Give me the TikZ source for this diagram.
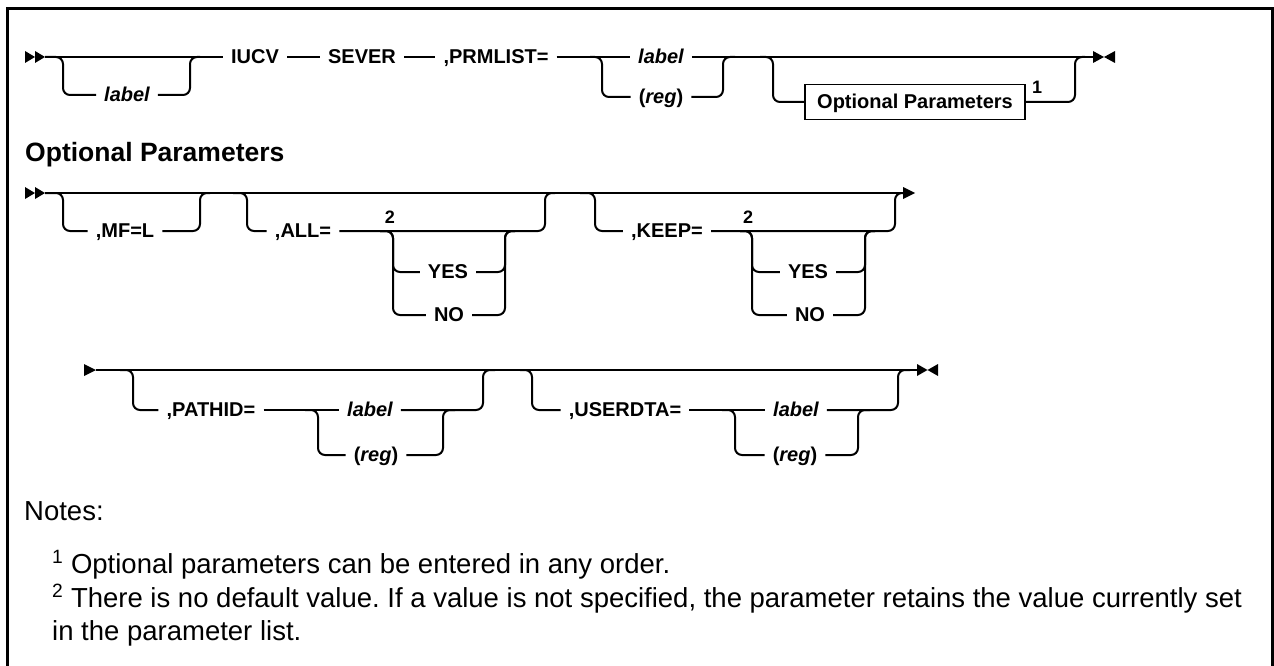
\documentclass[tikz,border=0pt]{standalone}
\usepackage{fontspec}
\setmainfont{Liberation Sans}
\usetikzlibrary{positioning}
\frenchspacing

\begin{document}
\begin{tikzpicture}[x=1pt, y=-1pt,
  rail/.style={line width=2pt, rounded corners=7pt},
  kw/.style={font=\fontsize{20}{22}\selectfont\bfseries, inner xsep=8pt, inner ysep=0pt, text height=13pt, text depth=0pt},
  var/.style={kw, font=\fontsize{20}{22}\selectfont\bfseries\itshape},
  fnum/.style={font=\fontsize{18}{20}\selectfont\bfseries, inner sep=0pt},
  notes/.style={font=\fontsize{27.5}{33}\selectfont, inner sep=0pt, anchor=base west}]
  \useasboundingbox (0,0) rectangle (1274,666);
  \draw[line width=3pt] (7,666) -- (7,9) -- (1272,9) -- (1272,666);

  % IUCV SEVER
  \fill (25,51) -- (35,57) -- (25,63) -- cycle (35,51) -- (45,57) -- (35,63) -- cycle;
  \coordinate (s1) at (45,57);
  \coordinate (e1) at (1093,57);
  \node[var] (lab1) at (127,95) {label};
  \node[kw] (iucv) at (255,57) {IUCV};
  \node[kw] (sever) at (362,57) {SEVER};
  \node[kw] (prm) at (496,57) {,PRMLIST=};
  \node[var] (plab) at (661,57) {label};
  \node[kw] (preg) at (661,97) {(\textit{reg})};
  \node[kw, draw, line width=1.5pt, minimum width=220pt, minimum height=35pt] (opt) at (915,102) {Optional Parameters};
  \node[fnum] (n1) at (1037,87) {1};
  \draw[rail] (s1) -- (iucv.west);
  \draw[rail] (s1) -| (63,95) -- (lab1.west);
  \draw[rail] (lab1.east) -| (190,57) -- (200,57);
  \draw[rail] (iucv.east) -- (sever.west);
  \draw[rail] (sever.east) -- (prm.west);
  \draw[rail] (prm.east) -- (plab.west);
  \draw[rail] (590,57) -| (602,97) -- (preg.west);
  \draw[rail] (plab.east) -- (e1);
  \draw[rail] (preg.east) -| (723,57) -- (735,57);
  \draw[rail] (760,57) -| (773,102) -- (opt.west);
  \draw[rail] (opt.east) -| (1075,57) -- (1085,57);
  \fill (1093,51) -- (1104,57) -- (1093,63) -- cycle (1115,51) -- (1104,57) -- (1115,63) -- cycle;

  \node[anchor=west, font=\fontsize{26.5}{30}\selectfont\bfseries, inner sep=0pt] (head) at (25,155) {Optional Parameters};

  % MF ALL KEEP
  \fill (25,187) -- (35,193) -- (25,199) -- cycle (35,187) -- (45,193) -- (35,199) -- cycle;
  \coordinate (s2) at (45,193);
  \coordinate (e2) at (903,193);
  \node[kw] (mfl) at (125,231) {,MF=L};
  \node[kw] (all) at (303,231) {,ALL=};
  \node[fnum] (two1) at (390,217) {2};
  \node[kw] (yesa) at (448,272) {YES};
  \node[kw] (noa) at (449,315) {NO};
  \node[kw] (keep) at (667,231) {,KEEP=};
  \node[fnum] (two2) at (748,217) {2};
  \node[kw] (yesk) at (808,272) {YES};
  \node[kw] (nok) at (810,315) {NO};
  \draw[rail] (s2) -- (e2);
  \draw[rail] (s2) -| (63,231) -- (mfl.west);
  \draw[rail] (mfl.east) -| (200,193) -- (210,193);
  \draw[rail] (233,193) -| (247,231) -- (all.west);
  \draw[rail] (all.east) -| (545,193) -- (555,193);
  \draw[rail] (380,231) -| (393,272) -- (yesa.west);
  \draw[rail] (380,231) -| (393,315) -- (noa.west);
  \draw[rail] (yesa.east) -| (505,231) -- (515,231);
  \draw[rail] (noa.east) -| (505,231) -- (515,231);
  \draw[rail] (580,193) -| (595,231) -- (keep.west);
  \draw[rail] (keep.east) -| (895,193) -- (e2);
  \draw[rail] (740,231) -| (752,272) -- (yesk.west);
  \draw[rail] (740,231) -| (752,315) -- (nok.west);
  \draw[rail] (yesk.east) -| (865,231) -- (875,231);
  \draw[rail] (nok.east) -| (865,231) -- (875,231);
  \fill (903,187) -- (915,193) -- (903,199) -- cycle;

  % PATHID USERDTA
  \fill (84,364) -- (96,370) -- (84,376) -- cycle;
  \coordinate (s3) at (96,370);
  \coordinate (e3) at (917,370);
  \node[kw] (pid) at (211,410) {,PATHID=};
  \node[var] (lab3) at (370,410) {label};
  \node[kw] (reg3) at (376,455) {(\textit{reg})};
  \node[kw] (udta) at (625,410) {,USERDTA=};
  \node[var] (lab4) at (796,410) {label};
  \node[kw] (reg4) at (795,455) {(\textit{reg})};
  \draw[rail] (s3) -- (e3);
  \draw[rail] (120,370) -| (133,410) -- (pid.west);
  \draw[rail] (pid.east) -- (lab3.west);
  \draw[rail] (305,410) -| (318,455) -- (reg3.west);
  \draw[rail] (lab3.east) -| (483,370) -- (495,370);
  \draw[rail] (reg3.east) -| (443,410) -- (455,410);
  \draw[rail] (520,370) -| (532,410) -- (udta.west);
  \draw[rail] (udta.east) -- (lab4.west);
  \draw[rail] (722,410) -| (735,455) -- (reg4.west);
  \draw[rail] (lab4.east) -| (898,370) -- (910,370);
  \draw[rail] (reg4.east) -| (858,410) -- (870,410);
  \fill (917,364) -- (927.5,370) -- (917,376) -- cycle (938,364) -- (927.5,370) -- (938,376) -- cycle;

  % notes
  \node[notes] (nt) at (24,520) {Notes:};
  \node[notes] (fn1) at (52,573) {\textsuperscript{1} Optional parameters can be entered in any order.};
  \node[notes] (fn2) at (52,607) {\textsuperscript{2} There is no default value. If a value is not specified, the parameter retains the value currently set};
  \node[notes] (fn2b) at (52,640) {in the parameter list.};
\end{tikzpicture}
\end{document}
